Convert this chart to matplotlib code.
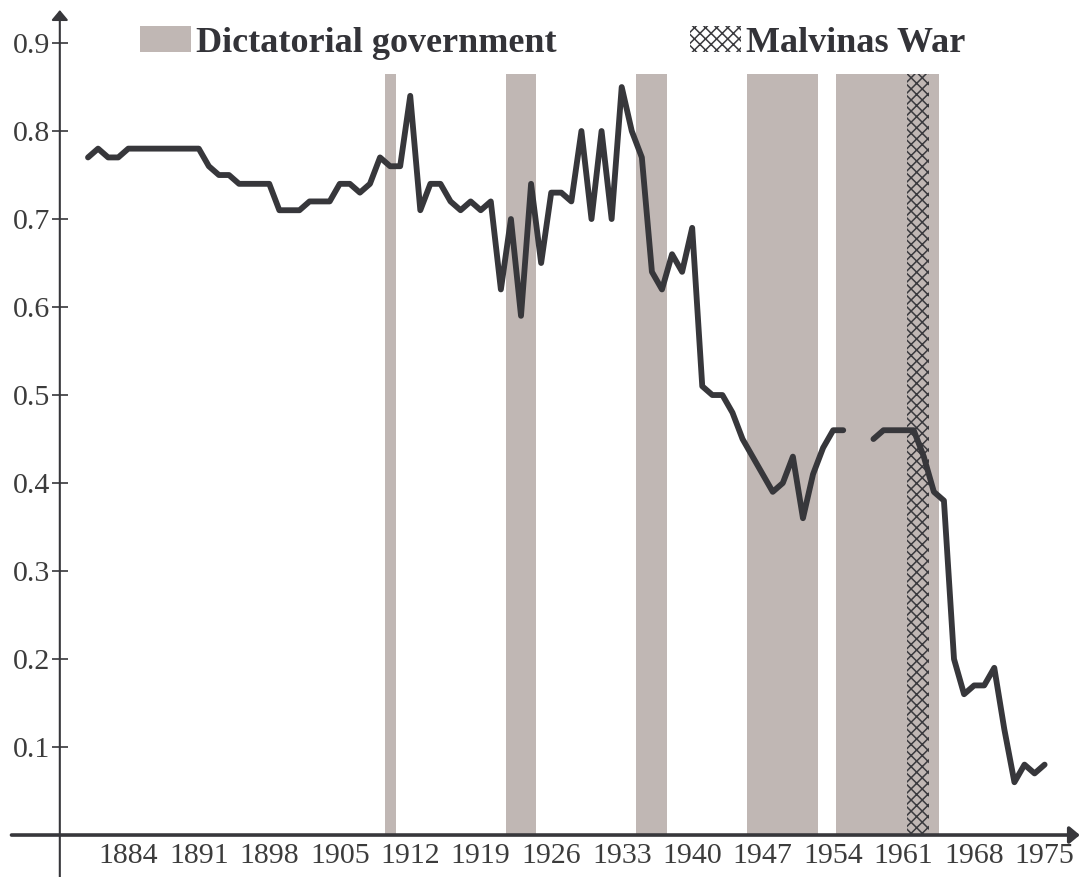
import numpy as np
import matplotlib
matplotlib.use("Agg")
import matplotlib.pyplot as plt
from matplotlib.patches import Patch

# yearly series, 1956-1957 missing
years = np.arange(1880, 1976)
values = [0.77, 0.78, 0.77, 0.77,
          0.78, 0.78, 0.78, 0.78, 0.78, 0.78, 0.78, 0.78,
          0.76, 0.75, 0.75,
          0.74, 0.74, 0.74, 0.74,
          0.71, 0.71, 0.71,
          0.72, 0.72, 0.72,
          0.74, 0.74, 0.73, 0.74, 0.77, 0.76, 0.76,
          0.84, 0.71, 0.74, 0.74, 0.72, 0.71, 0.72, 0.71, 0.72,
          0.62, 0.70, 0.59, 0.74, 0.65, 0.73, 0.73, 0.72,
          0.80, 0.70, 0.80, 0.70, 0.85, 0.80, 0.77,
          0.64, 0.62, 0.66, 0.64, 0.69,
          0.51, 0.50, 0.50, 0.48, 0.45, 0.43, 0.41, 0.39, 0.40,
          0.43, 0.36, 0.41, 0.44, 0.46, 0.46,
          np.nan, np.nan,
          0.45, 0.46, 0.46, 0.46, 0.46, 0.43, 0.39, 0.38,
          0.20, 0.16, 0.17, 0.17, 0.19, 0.12, 0.06, 0.08, 0.07, 0.08]

dictatorships = [(1909.5, 1910.6), (1921.5, 1924.5), (1934.4, 1937.5),
                 (1945.4, 1952.5), (1954.3, 1964.5)]
malvinas = (1961.3, 1963.5)
shade_top = 0.865

xticks = list(range(1884, 1976, 7))
yticks = [0.1, 0.2, 0.3, 0.4, 0.5, 0.6, 0.7, 0.8, 0.9]

shade = '#c0b7b4'
dark = '#37373b'

plt.rcParams['font.family'] = ['Liberation Serif', 'DejaVu Serif']
plt.rcParams['hatch.color'] = '#3a3a3e'
plt.rcParams['hatch.linewidth'] = 1.1

fig = plt.figure(figsize=(10.84, 8.77), dpi=100)
ax = fig.add_axes([0, 0, 1, 1])
ax.set_xlim(1871.26, 1978.91)
ax.set_ylim(-0.0477, 0.9489)

for a, b in dictatorships:
    ax.fill_between([a, b], 0, shade_top, color=shade, lw=0, zorder=1)
ax.fill_between(list(malvinas), 0, shade_top, facecolor='none',
                edgecolor='#3a3a3e', hatch='xxx', lw=0, zorder=2)

ax.plot(years, values, color=dark, lw=4.2, solid_joinstyle='round',
        solid_capstyle='round', zorder=3)

# axes as arrows
yaxis_x = 1877.2
ax.annotate('', xy=(1978.5, 0), xytext=(1872.4, 0),
            arrowprops=dict(arrowstyle='-|>,head_length=0.6,head_width=0.5',
                            lw=2.6, color=dark, shrinkA=0, shrinkB=0), zorder=4)
ax.annotate('', xy=(yaxis_x, 0.9375), xytext=(yaxis_x, -0.05),
            arrowprops=dict(arrowstyle='-|>,head_length=0.6,head_width=0.5',
                            lw=1.5, color=dark, shrinkA=0, shrinkB=0), zorder=4)

for s in ax.spines.values():
    s.set_visible(False)
ax.spines['left'].set_position(('data', yaxis_x))
ax.spines['bottom'].set_position(('data', 0))

ax.set_yticks(yticks)
ax.set_yticklabels([f'{v:.1f}' for v in yticks])
ax.tick_params(axis='y', direction='inout', length=12, width=1.2, color=dark,
               labelsize=21.5, labelcolor='#3c3c3c', pad=1)
ax.set_xticks(xticks)
ax.set_xticklabels([str(v) for v in xticks])
ax.tick_params(axis='x', length=0, labelsize=21.5, labelcolor='#3c3c3c', pad=6)

handles = [Patch(facecolor=shade, edgecolor='none', label='Dictatorial government'),
           Patch(facecolor='white', edgecolor='#3a3a3e', hatch='xxx', lw=0,
                 label='Malvinas War')]
leg = fig.legend(handles=handles, loc='center left',
                 bbox_to_anchor=(140 / 1084, 1 - 43 / 877), ncol=2, frameon=False,
                 borderpad=0, borderaxespad=0, handlelength=1.4, handleheight=0.72,
                 handletextpad=0.15, columnspacing=3.7,
                 prop={'size': 26, 'weight': 'bold'})
for t in leg.get_texts():
    t.set_color('#333338')

fig.savefig('out.png', dpi=100)
